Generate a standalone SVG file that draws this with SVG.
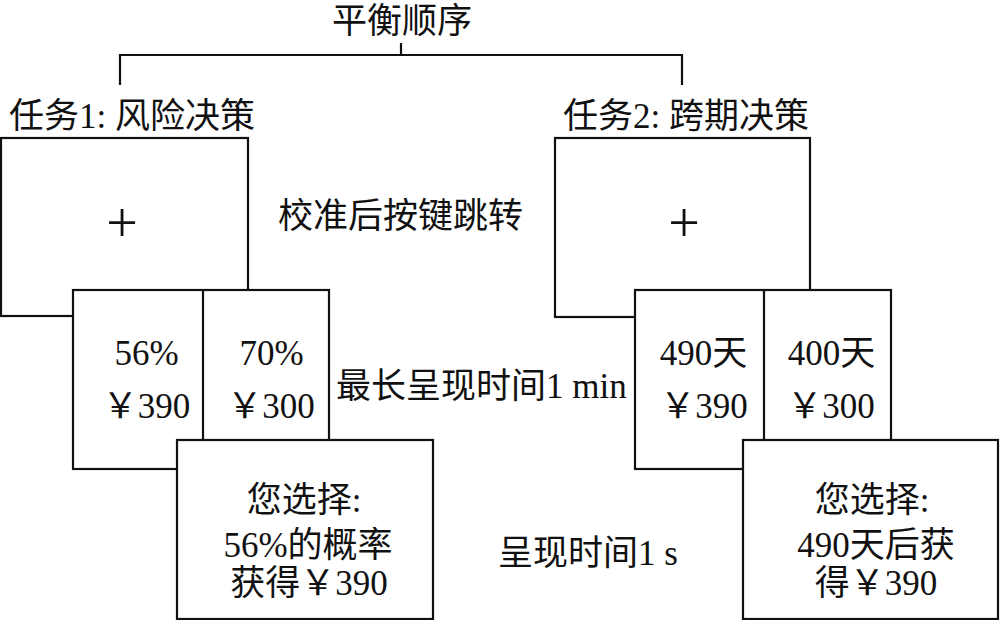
<svg xmlns="http://www.w3.org/2000/svg" width="1000" height="620" viewBox="0 0 1000 620">
<style>
text{font-family:"Liberation Serif",serif;font-size:35px;fill:#111}
.c{font-family:"Noto Sans CJK SC","Noto Sans CJK JP",sans-serif}
.m{text-anchor:middle}
.p{font-size:56px}
.box{fill:#fff;stroke:#111;stroke-width:2.2}
.ln{fill:none;stroke:#111;stroke-width:2.2}
</style>
<rect width="1000" height="620" fill="#fff"/>
<g id="connectors">
<path class="ln" d="M401,43V55M120,85V55H682V85"/>
</g>
<g id="title"><text class="m" x="402" y="33"><tspan class="c">平衡顺序</tspan></text></g>
<g id="task1-label"><text x="9" y="128"><tspan class="c">任务</tspan>1: <tspan class="c">风险决策</tspan></text></g>
<g id="task2-label"><text x="563" y="128"><tspan class="c">任务</tspan>2: <tspan class="c">跨期决策</tspan></text></g>
<g id="fix1"><rect class="box" x="1" y="138" width="247" height="178"/><text class="m p" x="122" y="242">+</text></g>
<g id="opt1"><rect class="box" x="73" y="290" width="256" height="179"/><line class="ln" x1="203" y1="290" x2="203" y2="440"/>
<text class="m" x="146.5" y="365">56%</text><text class="m" x="146.5" y="418"><tspan class="c">￥</tspan>390</text>
<text class="m" x="271.5" y="365">70%</text><text class="m" x="271" y="418"><tspan class="c">￥</tspan>300</text></g>
<g id="res1"><rect class="box" x="177" y="440" width="256" height="179"/>
<text class="m" x="304" y="512"><tspan class="c">您选择</tspan>:</text><text class="m" x="308" y="557">56%<tspan class="c">的概率</tspan></text><text class="m" x="309" y="595"><tspan class="c">获得￥</tspan>390</text></g>
<g id="fix2"><rect class="box" x="555" y="138" width="255" height="179"/><text class="m p" x="684" y="242">+</text></g>
<g id="opt2"><rect class="box" x="635" y="290" width="256" height="179"/><line class="ln" x1="764" y1="290" x2="764" y2="440"/>
<text class="m" x="703.5" y="365">490<tspan class="c">天</tspan></text><text class="m" x="704" y="418"><tspan class="c">￥</tspan>390</text>
<text class="m" x="831.5" y="365">400<tspan class="c">天</tspan></text><text class="m" x="831" y="418"><tspan class="c">￥</tspan>300</text></g>
<g id="res2"><rect class="box" x="743" y="440" width="255" height="179"/>
<text class="m" x="872" y="512"><tspan class="c">您选择</tspan>:</text><text class="m" x="876" y="557">490<tspan class="c">天后获</tspan></text><text class="m" x="876" y="595"><tspan class="c">得￥</tspan>390</text></g>
<g id="labels">
<text x="278" y="228"><tspan class="c">校准后按键跳转</tspan></text>
<text x="336" y="398"><tspan class="c">最长呈现时间</tspan>1 min</text>
<text x="498" y="565"><tspan class="c">呈现时间</tspan>1 s</text>
</g>
</svg>
